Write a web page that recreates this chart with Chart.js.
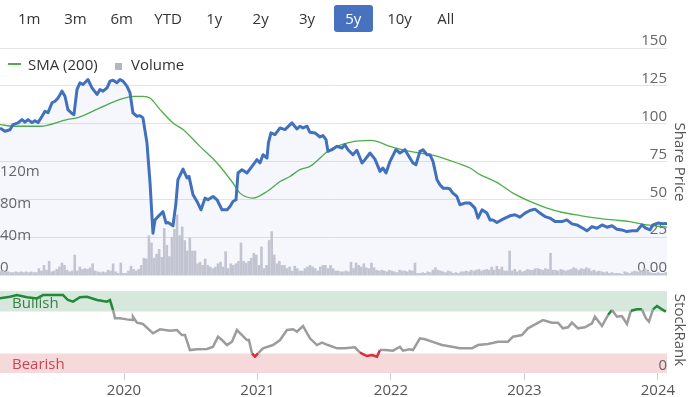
<!DOCTYPE html>
<html><head><meta charset="utf-8">
<script src="https://cdn.jsdelivr.net/npm/chart.js@4.4.1/dist/chart.umd.min.js"></script>
<style>
html,body{margin:0;padding:0;background:#fff;}
#wrap{position:relative;width:695px;height:397px;overflow:hidden;font-family:'Open Sans',sans-serif;}
canvas{position:absolute;left:0;}
#main{top:0;}
#rank{top:280px;}
.btn{position:absolute;top:5px;height:27px;width:46.3px;text-align:center;font-size:15px;color:#333;}
.btn span{display:inline-block;height:27px;line-height:27px;padding:0 2px;border-radius:3px;}
.btn.active span{background:#4672bf;color:#fff;width:39px;padding:0;}
.leg{position:absolute;font-size:15px;color:#333;line-height:20px;top:54px;white-space:nowrap;}
.atitle{position:absolute;writing-mode:vertical-rl;transform:translate(-50%,-50%);font-size:15px;color:#555;white-space:nowrap;}
</style></head>
<body>
<div id="wrap">
<canvas id="main" width="695" height="280"></canvas>
<canvas id="rank" width="695" height="117"></canvas>
<div id="btns"></div>
<div style="position:absolute;left:8px;top:63px;width:13px;height:2px;background:#4fae47;"></div>
<div class="leg" style="left:28px;">SMA (200)</div>
<div style="position:absolute;left:115px;top:63px;width:7px;height:7px;background:#b4b6bc;"></div>
<div class="leg" style="left:131px;">Volume</div>
<div class="atitle" style="left:681px;top:162px;">Share Price</div>
<div class="atitle" style="left:681px;top:330px;">StockRank</div>
</div>
<script>
// ---------- DATA ----------
const rangeButtons = ['1m','3m','6m','YTD','1y','2y','3y','5y','10y','All'];
const activeRange = '5y';

const priceTimes = [
2019.071,2019.108,2019.146,2019.168,2019.206,2019.236,2019.258,2019.281,2019.311,2019.333,
2019.356,2019.386,2019.408,2019.431,2019.461,2019.483,2019.506,2019.535,2019.558,2019.580,
2019.610,2019.625,2019.648,2019.670,2019.693,2019.730,2019.760,2019.798,2019.820,2019.843,
2019.873,2019.895,2019.918,2019.947,2019.970,2019.992,2020.022,2020.045,2020.067,2020.097,
2020.120,2020.142,2020.172,2020.195,2020.217,2020.232,2020.255,2020.292,2020.315,2020.330,
2020.367,2020.389,2020.404,2020.442,2020.472,2020.487,2020.517,2020.547,2020.577,2020.607,
2020.629,2020.667,2020.697,2020.734,2020.772,2020.794,2020.816,2020.839,2020.854,2020.884,
2020.921,2020.959,2020.996,2021.019,2021.041,2021.071,2021.082,2021.101,2021.131,2021.169,
2021.206,2021.258,2021.296,2021.318,2021.341,2021.371,2021.393,2021.431,2021.468,2021.491,
2021.513,2021.528,2021.558,2021.596,2021.633,2021.655,2021.678,2021.715,2021.745,2021.783,
2021.805,2021.843,2021.880,2021.918,2021.940,2021.963,2021.993,2022.037,2022.067,2022.105,
2022.127,2022.165,2022.187,2022.217,2022.240,2022.270,2022.292,2022.315,2022.345,2022.367,
2022.390,2022.420,2022.442,2022.464,2022.494,2022.517,2022.554,2022.592,2022.629,2022.652,
2022.682,2022.719,2022.742,2022.764,2022.794,2022.839,2022.891,2022.929,2022.966,2023.004,
2023.041,2023.079,2023.116,2023.154,2023.191,2023.229,2023.281,2023.318,2023.356,2023.393,
2023.438,2023.468,2023.506,2023.543,2023.581,2023.618,2023.656,2023.693,2023.730,2023.768,
2023.805,2023.843,2023.880,2023.910,2023.940,2023.963,2024.000,2024.038,2024.068];
const priceValues = [
97.2,95,96,99.4,100.5,102.7,101,102.7,100.7,102,
100.7,104.9,108.2,107.3,113.8,114.8,117,121.5,118.1,109.3,
106.7,106,122.6,127,125.9,129.2,123.7,119.3,122.6,121.5,
123.7,128.1,128.7,127,129.2,128.1,124.8,120.4,107.1,104.9,
105.3,103.8,87.3,60.8,27.6,36.4,38.6,41.9,34.3,34.7,
32.5,47.5,63,70,64.1,65.2,53,48.6,43.1,50.8,
49.7,51.9,49.7,43.1,43.1,45.3,48.6,49.7,67.4,69.6,
67.4,71.8,76.2,74,79.5,77.3,87.3,93.9,92.8,97.2,
96.1,100.5,96.5,98.3,97.2,98.3,94.3,93.9,91.2,92.1,
89.5,81.7,82.8,85,83.9,86.1,82.8,79.5,82.4,74,
76.2,80.6,76.6,68.5,70.7,67.4,75.1,82.8,80.6,82.8,
79.5,74,72.9,81.7,82.8,79.5,79.5,75.1,63,59.6,
57.4,57.4,56.8,54.1,51.9,46.4,47.5,47.5,44.2,37.6,
43.1,40.9,36.4,36.4,34.7,36.9,39.1,39.8,38.2,40.9,
42.6,43.5,40.9,38.6,37.6,35.3,35.3,36.4,33.8,33.1,
30.9,29.2,32,30.9,33.1,31.6,32.5,30.3,29.8,28.7,
29.2,29.2,33.1,30.9,29.8,33.1,34.3,33.8,34];

const smaTimes = [2019.071,2019.168,2019.371,2019.573,2019.648,2019.820,2019.970,2020.067,2020.142,2020.195,
2020.270,2020.367,2020.442,2020.569,2020.697,2020.816,2020.869,2020.966,2021.071,2021.169,
2021.243,2021.318,2021.393,2021.543,2021.693,2021.843,2021.895,2021.993,2022.142,2022.292,
2022.390,2022.494,2022.592,2022.667,2022.742,2022.794,2022.914,2023.041,2023.169,2023.288,
2023.416,2023.543,2023.663,2023.790,2023.918,2024.068];
const smaValues = [99.4,98.3,98.3,102.7,103.8,110.4,116,118.1,118.1,117,
109.3,100.5,96.1,85,74,60.8,54.1,50.8,55.2,61.8,
65.1,69.6,71.8,82.8,87.7,89,88.3,85,81.7,79.5,
77.3,74,70.7,66.3,63.4,61.2,54.1,48.6,44.2,41.3,
39.3,37.6,36.4,35.3,33.1,31.6];

// weekly volume (millions), first week starting late Jan 2019
const volumeStartYear = 2019.075;
const volumeStepDays = 7;
const volumeMillions = [
5,5,4,4,3,3,4,3,4,3,4,3,4,3,3,
8,5,12,6,17,4,
5,7,10,15,12,6,4,5,
25,
5,10,7,8,7,9,14,5,4,
3,4,3,6,5,14,4,2,
15,
2,2,5,11,7,5,7,12,21,
20,49,40,21,26,32,22,58,37,23,47,57,75,49,60,43,30,46,30,30,14,16,12,20,
12,10,8,10,14,16,10,29,8,14,12,14,17,40,17,15,17,21,27,25,12,35,8,12,43,54,25,14,17,12,12,8,10,5,11,8,5,5,8,10,12,10,8,5,10,12,12,8,12,8,
5,5,4,4,5,4,
16,8,15,12,10,14,9,8,15,9,6,5,6,5,
4,6,5,4,3,6,5,5,4,
6,5,15,2,
2,3,2,4,3,6,9,6,5,
4,3,5,4,2,3,2,4,
4,5,4,6,5,6,7,5,6,7,6,10,6,11,7,10,5,5,
30,
5,7,4,6,4,5,7,6,6,8,8,7,6,8,7,
27,
6,6,5,7,6,5,6,7,9,8,6,8,7,9,8,
5,6,4,5,4,3,4,2,3,2,2,2,1,4,3,
2,4,5,4,6,5,8,5,3,2,2,3,2,2,3];

const rankTimes = [
2019.071,2019.146,2019.198,2019.273,2019.348,2019.393,2019.468,2019.543,2019.580,2019.618,
2019.670,2019.723,2019.798,2019.873,2019.895,2019.918,2019.933,2019.970,2020.022,2020.060,
2020.067,2020.097,2020.142,2020.217,2020.270,2020.344,2020.397,2020.434,2020.457,2020.494,
2020.547,2020.622,2020.667,2020.704,2020.734,2020.772,2020.809,2020.846,2020.884,2020.921,
2020.936,2020.959,2020.981,2021.004,2021.041,2021.116,2021.169,2021.221,2021.266,2021.296,
2021.341,2021.393,2021.446,2021.483,2021.528,2021.596,2021.655,2021.730,2021.768,2021.820,
2021.858,2021.895,2021.918,2021.955,2022.015,2022.067,2022.090,2022.142,2022.165,2022.217,
2022.255,2022.307,2022.382,2022.457,2022.517,2022.607,2022.652,2022.727,2022.802,2022.877,
2022.914,2022.981,2023.026,2023.094,2023.139,2023.206,2023.251,2023.288,2023.326,2023.356,
2023.401,2023.453,2023.506,2023.528,2023.581,2023.626,2023.656,2023.693,2023.730,2023.768,
2023.798,2023.843,2023.880,2023.910,2023.933,2023.963,2023.993,2024.030,2024.060];
const rankValues = [
91,93,95,92.3,91,95,95,95,89,87,
92.3,93,89,87,89,76.8,66.7,66.7,65.4,64.6,
68.7,61.4,59.8,48.4,53.3,51.6,52.4,46.3,46.3,28,
28.9,29.3,32,44.3,40.2,34.1,38.2,52.4,46.3,40.2,
40.2,24,19.9,24,30.1,34.1,40.2,52.4,53.3,50.4,
57.3,42.3,34.1,37,34.1,30.1,30.1,31.3,24.8,20.7,
22,19.9,28,28,27.2,32,27.2,28.9,28,42.3,
41.1,38.2,34.1,32,30.1,30.1,34.1,35.4,38.2,38.2,
44.3,46.3,54.5,60.6,64.6,61.4,61.4,54.5,55.7,61.4,
54.5,55.7,60.6,68.7,57.3,70.7,76.8,68.7,69.5,59.8,
76,77.6,77.6,66.7,62.6,77.6,81.7,77.6,74.8];

const yearTicks = [2020, 2021, 2022, 2023, 2024];
const priceTickStep = 25, priceMax = 150;
const volumeTicks = [0, 40e6, 80e6, 120e6];
const bullishBand = [75, 100];
const bearishBand = [0, 25];
const X_MIN = 2019.071, X_MAX = 2024.068;

// ---------- BUTTONS ----------
const btns = document.getElementById('btns');
rangeButtons.forEach((b, i) => {
  const d = document.createElement('div');
  d.className = 'btn' + (b === activeRange ? ' active' : '');
  d.style.left = (6 + i * 46.3) + 'px';
  const s = document.createElement('span'); s.textContent = b; d.appendChild(s);
  btns.appendChild(d);
});

// ---------- CHARTS ----------
const F = "'Open Sans', sans-serif";
Chart.defaults.font.family = F;
const toPts = (ts, vs) => ts.map((t, i) => ({x: t, y: vs[i]}));
const volumePts = volumeMillions.map((v, i) => ({x: volumeStartYear + i * volumeStepDays / 365.25, y: v * 1e6}));

new Chart(document.getElementById('main'), {
  type: 'line',
  data: { datasets: [
    {type: 'line', label: 'Share Price', data: toPts(priceTimes, priceValues), yAxisID: 'yPrice',
     borderColor: '#4170bd', borderWidth: 3, pointRadius: 0, tension: 0, borderJoinStyle: 'round',
     fill: 'origin', backgroundColor: 'rgba(68,114,196,0.055)', order: 0},
    {type: 'line', label: 'SMA (200)', data: toPts(smaTimes, smaValues), yAxisID: 'yPrice',
     borderColor: '#4fae47', borderWidth: 1.3, pointRadius: 0, fill: false, cubicInterpolationMode: 'monotone', order: 1},
    {type: 'bar', label: 'Volume', data: volumePts, yAxisID: 'yVol',
     backgroundColor: '#c9cbd2', barThickness: 2, order: 2}
  ]},
  options: {
    responsive: false, animation: false, devicePixelRatio: 1,
    layout: {padding: {top: 48, bottom: 5, left: 0, right: 0}},
    plugins: {legend: {display: false}, tooltip: {enabled: false}},
    scales: {
      x: {type: 'linear', min: X_MIN, max: X_MAX, display: false, offset: false, grid: {offset: false}},
      yPrice: {
        position: 'right', min: 0, max: priceMax,
        ticks: {stepSize: priceTickStep, mirror: true, padding: 0, labelOffset: -7, color: '#666',
                font: {size: 15, family: F}, callback: v => v === 0 ? '0.00' : String(v)},
        grid: {color: '#e4e4e4', drawTicks: false, lineWidth: 1},
        border: {display: false},
        afterFit: s => { s.width = 28; s.paddingTop = 0; s.paddingBottom = 0; }
      },
      yVol: {
        position: 'left', min: 0, max: 283e6,
        afterBuildTicks: s => { s.ticks = volumeTicks.map(v => ({value: v})); },
        ticks: {mirror: true, padding: 0, labelOffset: -7, color: '#666', font: {size: 15, family: F},
                callback: v => v === 0 ? '0' : (v / 1e6) + 'm'},
        grid: {display: false}, border: {display: false},
        afterFit: s => { s.width = 0; s.paddingTop = 0; s.paddingBottom = 0; }
      }
    }
  }
});

const bandsPlugin = {
  id: 'bands',
  beforeDraw(chart) {
    const {ctx, chartArea: a, scales: {y}} = chart;
    const drawBand = (band, fill, text, color) => {
      const top = y.getPixelForValue(band[1]), bot = y.getPixelForValue(band[0]);
      ctx.save();
      ctx.fillStyle = fill;
      ctx.fillRect(a.left, top + 1, a.right - a.left, bot - top - 1);
      ctx.fillStyle = color;
      ctx.font = "15px 'Open Sans', sans-serif";
      ctx.textBaseline = 'middle';
      ctx.textAlign = 'left';
      ctx.fillText(text, a.left + 12, (top + bot) / 2 + 2);
      ctx.restore();
    };
    drawBand(bullishBand, '#d5e8db', 'Bullish', '#3b7d47');
    drawBand(bearishBand, '#f6d9db', 'Bearish', '#cf4450');
  }
};

const GREEN = '#23883a', RED = '#d3303c', GREY = '#9c9c9c';
new Chart(document.getElementById('rank'), {
  type: 'line',
  data: { datasets: [{
    label: 'StockRank', data: toPts(rankTimes, rankValues),
    borderColor: GREY, borderWidth: 2.5, pointRadius: 0, tension: 0, fill: false,
    segment: { borderColor: c => {
      const m = (c.p0.parsed.y + c.p1.parsed.y) / 2;
      if (m >= bullishBand[0] - 2) return GREEN;
      if (m <= bearishBand[1] + 2) return RED;
      return GREY;
    }}
  }]},
  options: {
    responsive: false, animation: false, devicePixelRatio: 1,
    layout: {padding: {top: 11, bottom: 0, left: 0, right: 0}},
    plugins: {legend: {display: false}, tooltip: {enabled: false}},
    scales: {
      x: {
        type: 'linear', min: X_MIN, max: X_MAX, offset: false,
        afterBuildTicks: s => { s.ticks = yearTicks.map(v => ({value: v})); },
        ticks: {autoSkip: false, maxRotation: 0, padding: 2, color: '#555', font: {size: 15, family: F},
                callback: v => String(v)},
        grid: {drawOnChartArea: false, drawTicks: true, tickLength: 7, color: '#cfcfcf'},
        border: {display: false},
        afterFit: s => { s.height = 24; s.paddingLeft = 0; s.paddingRight = 0; }
      },
      y: {
        position: 'right', min: 0, max: 100,
        afterBuildTicks: s => { s.ticks = [0, 100].map(v => ({value: v})); },
        ticks: {mirror: true, padding: 0, labelOffset: -7, color: '#666', font: {size: 15, family: F},
                callback: v => v === 0 ? '0' : ''},
        grid: {drawTicks: false, color: c => (c.tick && c.tick.value === 100) ? '#e4e4e4' : 'rgba(0,0,0,0)'},
        border: {display: false},
        afterFit: s => { s.width = 28; s.paddingTop = 0; s.paddingBottom = 0; }
      }
    }
  },
  plugins: [bandsPlugin]
});
</script>
</body></html>
